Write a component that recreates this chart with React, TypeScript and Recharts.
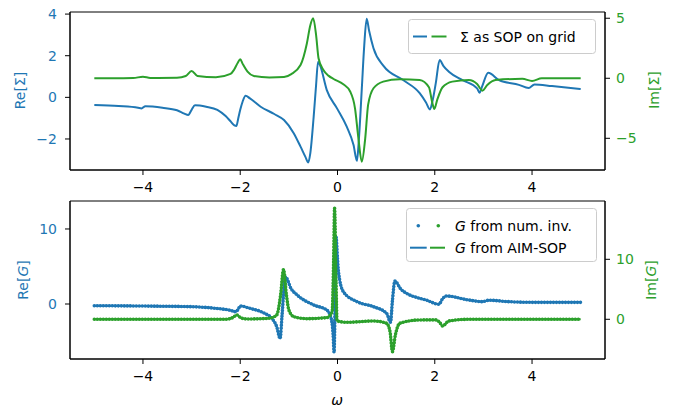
import { ComposedChart, Line, XAxis, YAxis, ReferenceArea } from "recharts";

const BLUE = "#1f77b4";
const GREEN = "#2ca02c";
const FONT = "DejaVu Sans, Verdana, sans-serif";

const X_TICKS = [-4, -2, 0, 2, 4];

// top panel: self-energy as SOP on the grid
const reSigmaW = [-5, -4.5, -4.1, -4.03, -3.95, -3.6, -3.3, -3.15, -3.07, -3.0, -2.93, -2.7, -2.47, -2.3, -2.2, -2.12, -2.08, -2.04, -2.0, -1.95, -1.89, -1.8, -1.58, -1.3, -1.1, -0.9, -0.76, -0.66, -0.6, -0.56, -0.49, -0.44, -0.4, -0.36, -0.22, -0.01, 0.19, 0.33, 0.4, 0.44, 0.5, 0.55, 0.6, 0.65, 0.74, 0.95, 1.35, 1.69, 1.82, 1.9, 1.96, 2.02, 2.1, 2.18, 2.29, 2.57, 2.87, 2.92, 2.97, 3.1, 3.32, 3.73, 3.93, 4.05, 4.41, 5.0];
const reSigmaV = [-0.37, -0.42, -0.5, -0.53, -0.43, -0.5, -0.62, -0.78, -0.85, -0.6, -0.38, -0.45, -0.6, -0.9, -1.15, -1.35, -1.38, -1.0, -0.6, -0.2, 0.08, -0.05, -0.45, -0.8, -1.09, -1.72, -2.37, -2.86, -3.13, -2.7, -0.93, 0.6, 1.71, 1.55, 0.35, -0.53, -1.41, -2.29, -3.05, -2.0, 0.43, 2.5, 3.78, 3.2, 2.36, 1.5, 0.83, 0.2, -0.25, -0.58, -0.1, 0.67, 1.79, 1.5, 1.23, 0.83, 0.43, 0.22, 0.5, 1.18, 0.83, 0.6, 0.45, 0.62, 0.54, 0.4];

const imSigmaW = [-5, -4.2, -4.0, -3.85, -3.3, -3.12, -3.0, -2.88, -2.5, -2.2, -2.13, -2.05, -2.0, -1.95, -1.85, -1.72, -1.4, -1.1, -0.95, -0.76, -0.63, -0.56, -0.5, -0.44, -0.39, -0.29, -0.18, -0.08, 0.12, 0.26, 0.36, 0.43, 0.5, 0.57, 0.63, 0.74, 0.94, 1.28, 1.69, 1.88, 1.95, 1.99, 2.05, 2.16, 2.36, 2.7, 2.87, 2.98, 3.08, 3.25, 3.8, 4.0, 4.2, 5.0];
const imSigmaV = [0, 0.02, 0.13, 0.03, 0.05, 0.19, 0.61, 0.19, 0.08, 0.36, 0.69, 1.3, 1.58, 1.2, 0.55, 0.19, 0.07, 0.1, 0.35, 1.1, 2.9, 4.4, 5.0, 3.6, 1.67, 0.69, 0.2, -0.06, -0.5, -1.1, -2.5, -5.0, -6.95, -5.0, -2.2, -0.83, -0.28, -0.08, -0.14, -0.75, -2.06, -2.56, -1.8, -0.75, -0.28, -0.14, -0.47, -1.03, -0.56, -0.14, -0.05, -0.22, 0, 0];

// bottom panel: Green's function
const reGW = [-5, -4, -3, -2.5, -2.2, -2.1, -2.05, -2.0, -1.8, -1.5, -1.35, -1.25, -1.18, -1.14, -1.1, -1.07, -0.95, -0.83, -0.49, -0.22, -0.14, -0.09, -0.07, -0.05, -0.03, 0.0, 0.02, 0.12, 0.4, 0.74, 1.01, 1.09, 1.13, 1.18, 1.3, 1.42, 1.69, 1.82, 2.09, 2.15, 2.23, 2.7, 2.98, 3.11, 3.52, 4.07, 5.0];
const reGV = [-0.23, -0.27, -0.36, -0.58, -0.85, -1.02, -0.8, -0.27, -0.58, -1.24, -1.91, -3.02, -4.6, -1.5, 2.0, 3.6, 2.0, 1.2, -0.13, -0.8, -1.69, -4.1, -6.44, 0, 8.97, 6.0, 4.31, 1.64, 0.31, -0.36, -1.24, -2.44, 0.5, 3.07, 2.0, 1.42, 0.76, 0.53, -0.04, 0.6, 1.07, 0.53, 0.31, 0.5, 0.31, 0.22, 0.22];

const imGW = [-5, -2.3, -2.15, -2.07, -1.98, -1.85, -1.4, -1.25, -1.17, -1.11, -1.05, -1.0, -0.9, -0.63, -0.22, -0.11, -0.08, -0.06, -0.03, -0.01, 0.19, 0.74, 1.01, 1.08, 1.13, 1.19, 1.28, 1.69, 2.02, 2.1, 2.16, 2.29, 2.7, 5.0];
const imGV = [0, 0, 0.3, 0.72, 0.2, 0.05, 0.17, 0.72, 4.05, 8.3, 4.05, 1.55, 0.44, 0.1, 0.28, 1.27, 9.6, 18.5, 6.27, -0.28, -0.5, -0.28, -0.67, -2.06, -5.4, -2.6, -0.67, -0.11, -0.1, -0.5, -1.12, -0.28, 0, 0];

const toPoints = (w: number[], v: number[]) => w.map((x, i) => ({ w: x, v: v[i] }));

const reSigma = toPoints(reSigmaW, reSigmaV);
const imSigma = toPoints(imSigmaW, imSigmaV);
const reG = toPoints(reGW, reGV);
const imG = toPoints(imGW, imGV);

const fmt = (v: number) => (v < 0 ? `\u2212${-v}` : `${v}`);

const tickStyle = (fill: string) => ({ fill, fontSize: 14, fontFamily: FONT });

const DOTS = { strokeWidth: 3.6, strokeDasharray: "0 3", strokeLinecap: "round" as const };

export default function App() {
  return (
    <div style={{ position: "absolute", left: 0, top: 0, width: 676, height: 409, background: "#fff" }}>
      <div style={{ position: "absolute", left: 0, top: 0 }}>
        <ComposedChart width={676} height={200} margin={{ top: 12, right: 0, bottom: 0, left: 0 }}>
          <XAxis dataKey="w" type="number" domain={[-5.5, 5.5]} ticks={X_TICKS} allowDataOverflow height={30}
            tickSize={5} tickMargin={7} stroke="#000" tick={tickStyle("#000")} tickFormatter={fmt} />
          <YAxis yAxisId="re" domain={[-3.49, 4.1]} ticks={[-2, 0, 2, 4]} allowDataOverflow width={70}
            tickSize={5} tickMargin={8} stroke="#000" tick={tickStyle(BLUE)} tickFormatter={fmt} />
          <YAxis yAxisId="im" orientation="right" domain={[-7.64, 5.52]} ticks={[-5, 0, 5]} allowDataOverflow width={71}
            tickSize={5} tickMargin={6} stroke="#000" tick={tickStyle(GREEN)} tickFormatter={fmt} />
          <ReferenceArea yAxisId="re" x1={-5.5} x2={5.5} y1={-3.49} y2={4.1} fill="none" stroke="#000" strokeWidth={1} />
          <Line yAxisId="re" data={reSigma} dataKey="v" type="monotone" stroke={BLUE} strokeWidth={2}
            dot={false} isAnimationActive={false} />
          <Line yAxisId="im" data={imSigma} dataKey="v" type="monotone" stroke={GREEN} strokeWidth={2}
            dot={false} isAnimationActive={false} />
        </ComposedChart>
      </div>
      <div style={{ position: "absolute", left: 0, top: 189 }}>
        <ComposedChart width={676} height={220} margin={{ top: 12, right: 0, bottom: 0, left: 0 }}>
          <XAxis dataKey="w" type="number" domain={[-5.5, 5.5]} ticks={X_TICKS} allowDataOverflow height={50}
            tickSize={5} tickMargin={7} stroke="#000" tick={tickStyle("#000")} tickFormatter={fmt} />
          <YAxis yAxisId="re" domain={[-7.33, 13.73]} ticks={[0, 10]} allowDataOverflow width={70}
            tickSize={5} tickMargin={8} stroke="#000" tick={tickStyle(BLUE)} tickFormatter={fmt} />
          <YAxis yAxisId="im" orientation="right" domain={[-6.62, 19.72]} ticks={[0, 10]} allowDataOverflow width={71}
            tickSize={5} tickMargin={6} stroke="#000" tick={tickStyle(GREEN)} tickFormatter={fmt} />
          <ReferenceArea yAxisId="re" x1={-5.5} x2={5.5} y1={-7.33} y2={13.73} fill="none" stroke="#000" strokeWidth={1} />
          <Line yAxisId="re" data={reG} dataKey="v" type="monotone" stroke={BLUE} {...DOTS}
            dot={false} isAnimationActive={false} />
          <Line yAxisId="re" data={reG} dataKey="v" type="monotone" stroke={BLUE} strokeWidth={2}
            dot={false} isAnimationActive={false} />
          <Line yAxisId="im" data={imG} dataKey="v" type="monotone" stroke={GREEN} {...DOTS}
            dot={false} isAnimationActive={false} />
          <Line yAxisId="im" data={imG} dataKey="v" type="monotone" stroke={GREEN} strokeWidth={2}
            dot={false} isAnimationActive={false} />
        </ComposedChart>
      </div>

      {/* axis labels and legends */}
      <svg width={676} height={409} style={{ position: "absolute", left: 0, top: 0, pointerEvents: "none" }}
        fontFamily={FONT} fontSize={14}>
        <text transform="translate(19.5,90.5) rotate(-90)" textAnchor="middle" dominantBaseline="central" fill={BLUE}>Re[Σ]</text>
        <text transform="translate(653.5,90) rotate(-90)" textAnchor="middle" dominantBaseline="central" fill={GREEN}>Im[Σ]</text>
        <text transform="translate(23,280) rotate(-90)" textAnchor="middle" dominantBaseline="central" fill={BLUE}>
          Re[<tspan fontStyle="italic">G</tspan>]
        </text>
        <text transform="translate(651,280) rotate(-90)" textAnchor="middle" dominantBaseline="central" fill={GREEN}>
          Im[<tspan fontStyle="italic">G</tspan>]
        </text>
        <text x={337} y={405} textAnchor="middle" fontStyle="italic" fill="#000">ω</text>

        <rect x={408.5} y={19.5} width={187} height={34} rx={3} fill="#fff" fillOpacity={0.8} stroke="#ccc" />
        <line x1={413} x2={427} y1={36.5} y2={36.5} stroke={BLUE} strokeWidth={2} />
        <line x1={431.5} x2={446.5} y1={36.5} y2={36.5} stroke={GREEN} strokeWidth={2} />
        <text x={460} y={36.7} dominantBaseline="central" fill="#000">Σ as SOP on grid</text>

        <rect x={406.5} y={208.5} width={190} height={53} rx={3} fill="#fff" fillOpacity={0.8} stroke="#ccc" />
        <circle cx={418.3} cy={225.7} r={1.8} fill={BLUE} />
        <circle cx={438.3} cy={225.7} r={1.8} fill={GREEN} />
        <text x={455} y={225.7} dominantBaseline="central" fill="#000">
          <tspan fontStyle="italic">G</tspan> from num. inv.
        </text>
        <line x1={410} x2={426.7} y1={247.7} y2={247.7} stroke={BLUE} strokeWidth={2} />
        <line x1={430} x2={445} y1={247.7} y2={247.7} stroke={GREEN} strokeWidth={2} />
        <text x={455} y={247.7} dominantBaseline="central" fill="#000">
          <tspan fontStyle="italic">G</tspan> from AIM-SOP
        </text>
      </svg>
    </div>
  );
}
